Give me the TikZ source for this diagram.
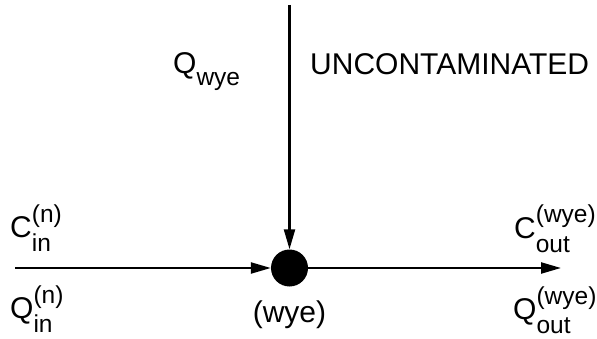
\documentclass[tikz,border=0pt]{standalone}
\usepackage{fontspec}
\setmainfont{Liberation Sans}
\usetikzlibrary{arrows.meta}
\newcommand\mainsz{\fontsize{30}{30}\selectfont}
\newcommand\smallsz{\fontsize{24.5}{24.5}\selectfont}
\newcommand\subsup[3]{#1\rlap{\raisebox{-14pt}{\smallsz #2}}\raisebox{15pt}{\smallsz #3}}
\newcommand\subonly[2]{#1\raisebox{-12pt}{\smallsz #2}}
\begin{document}
\begin{tikzpicture}[x=1pt,y=-1pt,
  lbl/.style={anchor=base west,inner sep=0pt,font=\mainsz},
  flow/.style={line width=2.3pt,-{Triangle[length=20pt,width=11pt]}},
  hubstyle/.style={circle,fill=black,minimum size=37pt,inner sep=0pt}]
\useasboundingbox (0,0) rectangle (597,339);
\node[hubstyle] (hub) at (289.5,268) {};
\coordinate (src) at (15,268);
\coordinate (top) at (289.5,5);
\coordinate (sink) at (561,268);
\draw[flow] (src) -- (hub);
\draw[flow] (top) -- (hub);
\draw[flow] (hub) -- (sink);
\node[lbl] (qwye) at (173,74) {\subonly{Q}{wye}};
\node[lbl] (unc) at (310,75) {UNCONTAMINATED};
\node[lbl] (cin) at (10,237) {\subsup{C}{in}{(n)}};
\node[lbl] (qin) at (10,318) {\subsup{Q}{in}{(n)}};
\node[lbl,anchor=base] (wye) at (289.5,322) {(wye)};
\node[lbl] (cout) at (514,238) {\subsup{C}{out}{(wye)}};
\node[lbl] (qout) at (513,319) {\subsup{Q}{out}{(wye)}};
\end{tikzpicture}
\end{document}
